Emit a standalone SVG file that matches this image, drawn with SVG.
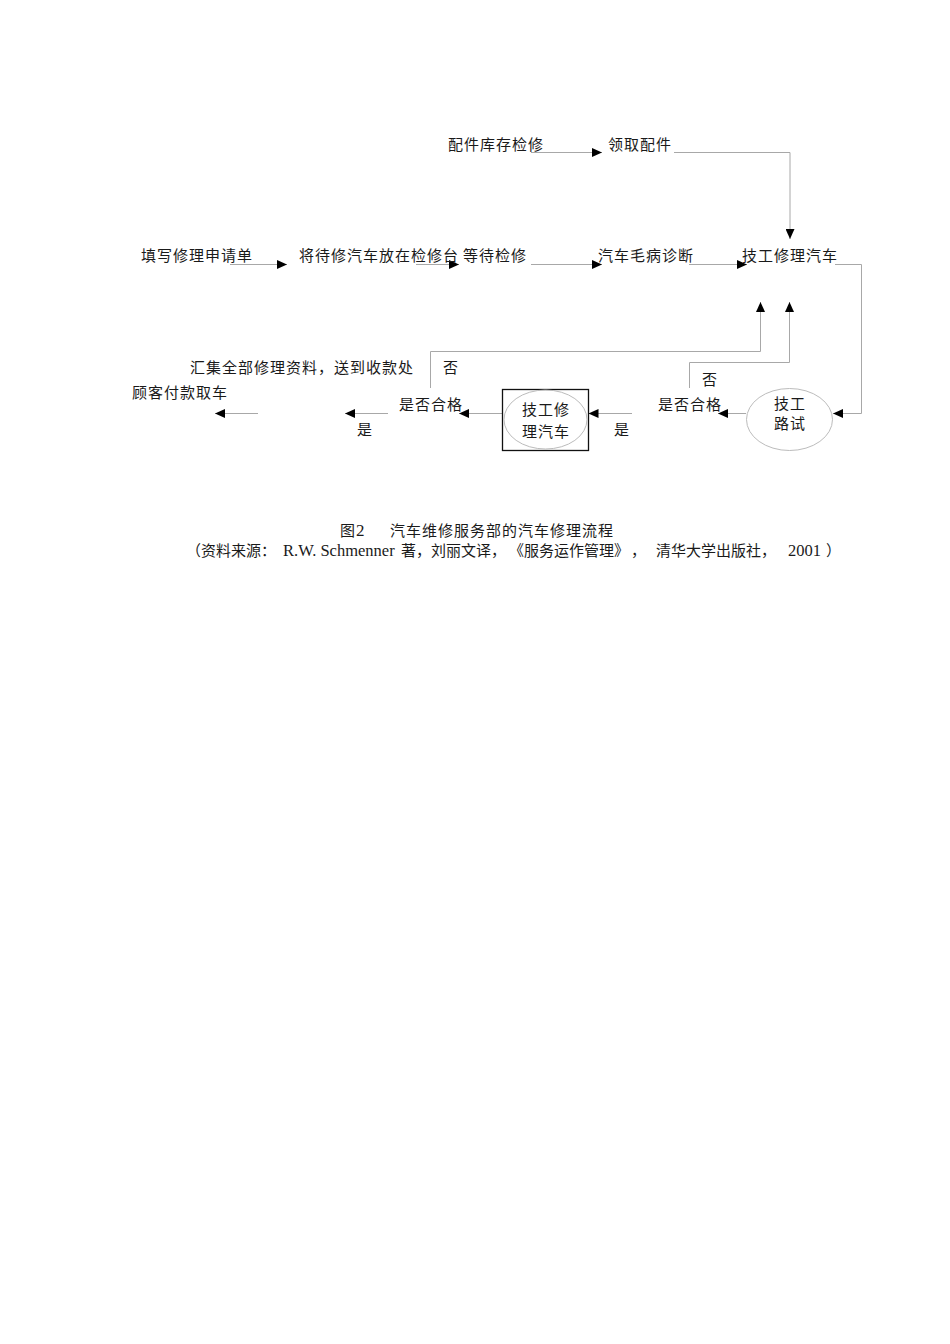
<svg xmlns="http://www.w3.org/2000/svg" width="950" height="1344" viewBox="0 0 950 1344">
<style>
  text { font-family: "Liberation Serif", "Noto Sans CJK SC", serif; font-size: 15px; fill: #1a1a1a; }
  .cjk { font-family: "Noto Sans CJK SC", "Liberation Serif", sans-serif; letter-spacing: 1px; }
  .cap { font-family: "Noto Sans CJK SC", "Liberation Serif", sans-serif; letter-spacing: 0; }
  .lat { font-family: "Liberation Serif", serif; font-size: 16.5px; }
  .mid { text-anchor: middle; }
  .conn { fill: none; stroke: #a8a8a8; stroke-width: 1; }
  .oval { fill: none; stroke: #bcbcbc; stroke-width: 1; }
  .box { fill: none; stroke: #111; stroke-width: 1.3; }
</style>
<defs>
  <marker id="ah" viewBox="0 0 10 9" refX="10" refY="4.5" markerWidth="10" markerHeight="9" markerUnits="userSpaceOnUse" orient="auto">
    <path d="M0,0 L10,4.5 L0,9 z" fill="#000"/>
  </marker>
</defs>
<rect width="950" height="1344" fill="#fff"/>

<g id="connectors">
  <path class="conn" d="M531,152.5 H602" marker-end="url(#ah)"/>
  <path class="conn" d="M674,152.5 H790 V239" marker-end="url(#ah)"/>
  <path class="conn" d="M230,264.5 H287" marker-end="url(#ah)"/>
  <path class="conn" d="M416,264.5 H459" marker-end="url(#ah)"/>
  <path class="conn" d="M531,264.5 H602" marker-end="url(#ah)"/>
  <path class="conn" d="M689,264.5 H747" marker-end="url(#ah)"/>
  <path class="conn" d="M835,264.5 H861.5 V413.5 H833" marker-end="url(#ah)"/>
  <path class="conn" d="M746,413.5 H718" marker-end="url(#ah)"/>
  <path class="conn" d="M632,413.5 H588.5" marker-end="url(#ah)"/>
  <path class="conn" d="M502,413.5 H459" marker-end="url(#ah)"/>
  <path class="conn" d="M388,413.5 H345" marker-end="url(#ah)"/>
  <path class="conn" d="M258,413.5 H215" marker-end="url(#ah)"/>
  <path class="conn" d="M430.5,388 V351.5 H760.5 V302" marker-end="url(#ah)"/>
  <path class="conn" d="M689.5,388 V362.5 H789.5 V302" marker-end="url(#ah)"/>
</g>

<g id="n-parts-check"><text class="cjk" x="448" y="150">配件库存检修</text></g>
<g id="n-get-parts"><text class="cjk" x="608" y="150">领取配件</text></g>
<g id="n-fill-form"><text class="cjk" x="141" y="261">填写修理申请单</text></g>
<g id="n-place-car"><text class="cjk" x="299" y="261">将待修汽车放在检修台</text></g>
<g id="n-wait"><text class="cjk" x="463" y="261">等待检修</text></g>
<g id="n-diagnose"><text class="cjk" x="598" y="261">汽车毛病诊断</text></g>
<g id="n-repair"><text class="cjk" x="742" y="261">技工修理汽车</text></g>

<g id="n-road-test">
  <ellipse class="oval" cx="789.5" cy="419.5" rx="43" ry="31"/>
  <text class="cjk mid" x="790" y="409">技工</text>
  <text class="cjk mid" x="790" y="429">路试</text>
</g>

<g id="n-check-right">
  <text class="cjk" x="658" y="410">是否合格</text>
  <text class="cjk" x="702" y="385">否</text>
  <text class="cjk" x="614" y="435">是</text>
</g>

<g id="n-repair-box">
  <rect class="box" x="502.5" y="389.5" width="86" height="61"/>
  <ellipse class="oval" cx="545.5" cy="419.5" rx="41.5" ry="29.5"/>
  <text class="cjk mid" x="546" y="415">技工修</text>
  <text class="cjk mid" x="546" y="437">理汽车</text>
</g>

<g id="n-check-left">
  <text class="cjk" x="399" y="410">是否合格</text>
  <text class="cjk" x="443" y="373">否</text>
  <text class="cjk" x="357" y="435">是</text>
</g>

<g id="n-collect"><text class="cjk" x="190" y="373">汇集全部修理资料，送到收款处</text></g>
<g id="n-pay"><text class="cjk" x="132" y="398">顾客付款取车</text></g>

<g id="caption">
  <text x="340" y="536"><tspan class="cjk">图</tspan><tspan font-size="17">2</tspan></text>
  <text class="cjk" x="390" y="536">汽车维修服务部的汽车修理流程</text>
  <text y="556">
    <tspan class="cap" x="186">（资料来源：</tspan>
    <tspan class="lat" x="283">R.W. Schmenner</tspan>
    <tspan class="cap" x="401">著，刘丽文译，</tspan>
    <tspan class="cap" x="509">《服务运作管理》</tspan>
    <tspan class="cap" x="631">，</tspan>
    <tspan class="cap" x="656">清华大学出版社，</tspan>
    <tspan class="lat" x="788">2001</tspan>
    <tspan class="cap" x="826">）</tspan>
  </text>
</g>
</svg>
